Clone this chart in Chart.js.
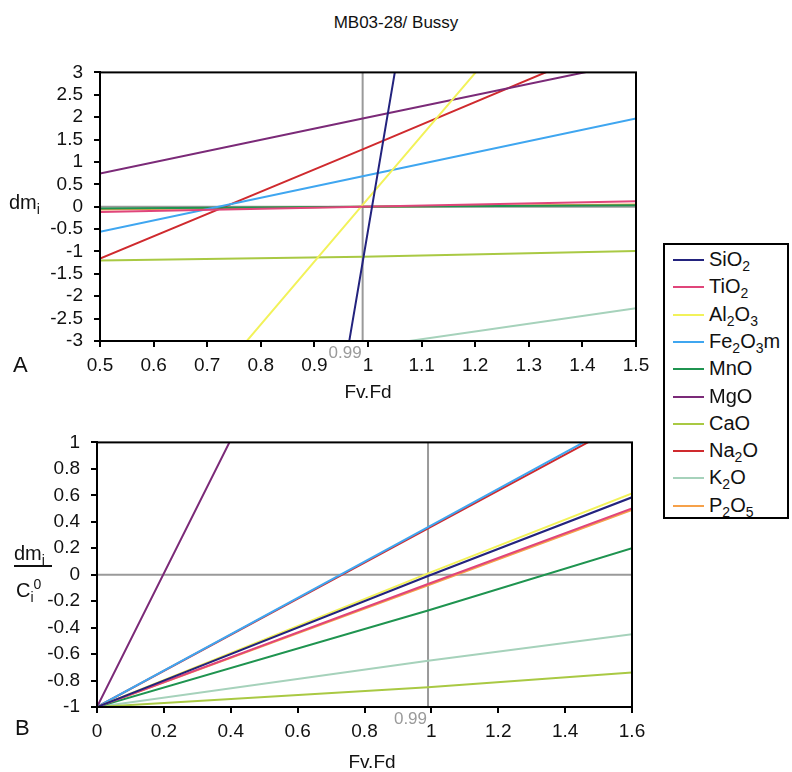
<!DOCTYPE html>
<html>
<head>
<meta charset="utf-8">
<script src="https://cdn.jsdelivr.net/npm/chart.js@4.4.1/dist/chart.umd.min.js"></script>
<style>
body { margin: 0; background: #fff; font-family: "Liberation Sans", Arial, sans-serif; color: #111; }
#page { position: relative; width: 792px; height: 772px; overflow: hidden; }
.txt { position: absolute; white-space: nowrap; line-height: 1; }
sub { font-size: 70%; vertical-align: -0.35em; line-height: 0; }
sup { font-size: 70%; vertical-align: 0.6em; line-height: 0; }
canvas { position: absolute; }
#legend { position: absolute; left: 663px; top: 243px; width: 122px; height: 272px; border: 2px solid #000; }
.item { position: absolute; left: 0; height: 20px; font-size: 20px; }
.item i { position: absolute; left: 8px; top: 9px; width: 31px; height: 2px; }
.item span { position: absolute; left: 44px; top: -1px; white-space: nowrap; line-height: 1; }
</style>
</head>
<body>
<div id="page">
  <div class="txt" style="left:0;width:792px;top:14px;text-align:center;font-size:17px;">MB03-28/ Bussy</div>

  <canvas id="chartA" width="660" height="340" style="left:0;top:50px;"></canvas>
  <canvas id="chartB" width="660" height="340" style="left:0;top:420px;"></canvas>

  <div class="txt" style="left:9px;top:192px;font-size:20px;">dm<sub>i</sub></div>
  <div class="txt" style="left:13px;top:354px;font-size:22px;">A</div>
  <div class="txt" style="left:308px;width:120px;top:382px;text-align:center;font-size:19px;">Fv.Fd</div>

  <div class="txt" style="left:14px;top:543px;font-size:20px;">dm<sub>i</sub></div>
  <div style="position:absolute;left:14px;top:565px;width:38px;height:2px;background:#111;"></div>
  <div class="txt" style="left:16px;top:580px;font-size:20px;">C<sub>i</sub><sup>0</sup></div>
  <div class="txt" style="left:15px;top:717px;font-size:22px;">B</div>
  <div class="txt" style="left:312px;width:120px;top:752px;text-align:center;font-size:19px;">Fv.Fd</div>

  <div id="legend"></div>
</div>

<script>
const oxides = ['SiO2', 'TiO2', 'Al2O3', 'Fe2O3m', 'MnO', 'MgO', 'CaO', 'Na2O', 'K2O', 'P2O5'];
const oxideLabels = ['SiO<sub>2</sub>', 'TiO<sub>2</sub>', 'Al<sub>2</sub>O<sub>3</sub>', 'Fe<sub>2</sub>O<sub>3</sub>m', 'MnO',
    'MgO', 'CaO', 'Na<sub>2</sub>O', 'K<sub>2</sub>O', 'P<sub>2</sub>O<sub>5</sub>'];
const colors = ['#23237e', '#e0457a', '#f2f25a', '#3fa6f0', '#1f9450', '#7b2a78', '#a9c943', '#cf2a2e', '#a6d2bb', '#f6a14a'];

const refFvFd = 0.99;

// A : dm_i en fonction de Fv.Fd
const fvFdA = [0.5, 0.99, 1.5];
const siO2A = [-35.8, -1.24, 34.8];
const tiO2A = [-0.12, 0.0, 0.12];
const al2O3A = [-6.85, 0.04, 7.2];
const fe2O3A = [-0.56, 0.68, 1.97];
const mnOA = [-0.04, 0.0, 0.03];
const mgOA = [0.74, 1.97, 3.24];
const caOA = [-1.2, -1.12, -0.99];
const na2OA = [-1.16, 1.28, 3.85];
const k2OA = [-4.0, -3.15, -2.27];
const p2O5A = [-0.06, 0.0, 0.05];

// B : dm_i / Ci0 en fonction de Fv.Fd
const fvFdB = [0, 0.99, 1.6];
const siO2B = [-1, -0.01, 0.585];
const tiO2B = [-1, -0.07, 0.5];
const al2O3B = [-1, 0.01, 0.615];
const fe2O3B = [-1, 0.36, 1.2];
const mnOB = [-1, -0.27, 0.2];
const mgOB = [-1, 4.0, 7.1];
const caOB = [-1, -0.85, -0.74];
const na2OB = [-1, 0.35, 1.18];
const k2OB = [-1, -0.65, -0.45];
const p2O5B = [-1, -0.08, 0.49];

const seriesA = [siO2A, tiO2A, al2O3A, fe2O3A, mnOA, mgOA, caOA, na2OA, k2OA, p2O5A];
const seriesB = [siO2B, tiO2B, al2O3B, fe2O3B, mnOB, mgOB, caOB, na2OB, k2OB, p2O5B];

const FONT = '"Liberation Sans", Arial, sans-serif';

// lignes grises (0 et 0.99) + cadre noir
const framePlugin = {
    id: 'frame',
    beforeDatasetsDraw(chart) {
        const {ctx, chartArea: a, scales: {x, y}} = chart;
        const y0 = y.getPixelForValue(0);
        const xr = x.getPixelForValue(refFvFd);
        ctx.save();
        ctx.strokeStyle = '#9a9a9a';
        ctx.lineWidth = 2;
        ctx.beginPath();
        ctx.moveTo(a.left, y0);
        ctx.lineTo(a.right, y0);
        ctx.moveTo(xr, a.top);
        ctx.lineTo(xr, a.bottom);
        ctx.stroke();
        ctx.restore();
    },
    afterDraw(chart) {
        const {ctx, chartArea: a, scales: {x}} = chart;
        const xr = x.getPixelForValue(refFvFd);
        ctx.save();
        ctx.strokeStyle = '#000';
        ctx.lineWidth = 2;
        ctx.strokeRect(a.left, a.top, a.right - a.left, a.bottom - a.top);
        ctx.fillStyle = '#9a9a9a';
        ctx.font = '17px ' + FONT;
        ctx.textAlign = 'right';
        ctx.textBaseline = 'top';
        ctx.fillText(String(refFvFd), xr - 1, a.bottom + 4);
        ctx.restore();
    }
};

const makeChart = (id, fvFd, series, xr, yr, pad, xHeight, yWidth) => {
    const datasets = series.map((vals, i) => ({
        label: oxides[i],
        data: vals.map((v, j) => ({x: fvFd[j], y: v})),
        borderColor: colors[i],
        borderWidth: 2,
        pointRadius: 0,
        showLine: true,
        fill: false,
        tension: 0
    }));

    const axis = (r, fit) => ({
        type: 'linear',
        min: r[0],
        max: r[1],
        ticks: {
            stepSize: r[2],
            autoSkip: false,
            maxRotation: 0,
            color: '#111',
            padding: r[3],
            font: {size: 19, family: FONT},
            callback: v => String(Math.round(v * 100) / 100)
        },
        grid: {drawOnChartArea: false, drawTicks: true, tickLength: 6, color: '#000', lineWidth: 2},
        border: {color: '#000', width: 2},
        afterFit: fit
    });

    return new Chart(document.getElementById(id), {
        type: 'scatter',
        data: {datasets},
        plugins: [framePlugin],
        options: {
            responsive: false,
            animation: false,
            layout: {padding: pad},
            plugins: {legend: {display: false}, tooltip: {enabled: false}},
            scales: {
                x: axis(xr, s => { s.height = xHeight; }),
                y: axis(yr, s => { s.width = yWidth; })
            }
        }
    });
};

makeChart('chartA', fvFdA, seriesA, [0.5, 1.5, 0.1, 7], [-3, 3, 0.5, 11],
    {left: 0, top: 22, right: 24, bottom: 0}, 49, 100);
makeChart('chartB', fvFdB, seriesB, [0, 1.6, 0.2, 7], [-1, 1, 0.2, 11],
    {left: 0, top: 18, right: 28, bottom: 0}, 53, 97);

// légende commune
const $legend = document.getElementById('legend');
oxideLabels.forEach((lab, i) => {
    const row = document.createElement('div');
    row.className = 'item';
    row.style.top = (5 + i * 27.3) + 'px';
    row.style.width = '122px';
    row.innerHTML = `<i style="background:${colors[i]}"></i><span>${lab}</span>`;
    $legend.appendChild(row);
});
</script>
</body>
</html>
